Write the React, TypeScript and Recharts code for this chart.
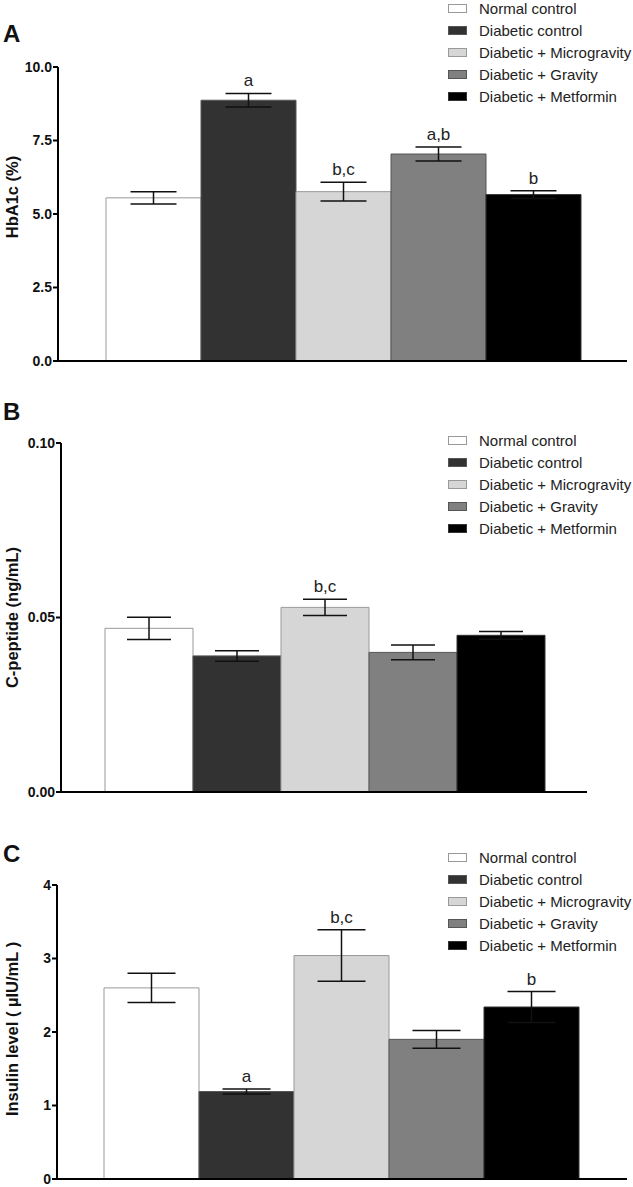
import { BarChart, Bar, XAxis, YAxis, Legend, ErrorBar, LabelList } from "recharts";

const groups = [
  "Normal control",
  "Diabetic control",
  "Diabetic + Microgravity",
  "Diabetic + Gravity",
  "Diabetic + Metformin",
];
const fills = ["#ffffff", "#323232", "#d6d6d6", "#808080", "#000000"];
const strokes = ["#999999", "#555555", "#999999", "#555555", "#333333"];

const hba1c = [5.55, 8.87, 5.76, 7.04, 5.66];
const hba1cErr = [0.21, 0.23, 0.32, 0.24, 0.13];
const hba1cSig = ["", "a", "b,c", "a,b", "b"];
const hba1cTicks = [0, 2.5, 5, 7.5, 10];

const cpep = [0.0469, 0.039, 0.0529, 0.04, 0.0449];
const cpepErr = [0.0032, 0.0015, 0.0023, 0.0021, 0.0011];
const cpepSig = ["", "", "b,c", "", ""];
const cpepTicks = [0, 0.05, 0.1];

const insulin = [2.6, 1.19, 3.04, 1.9, 2.34];
const insulinErr = [0.2, 0.035, 0.35, 0.12, 0.21];
const insulinSig = ["", "a", "b,c", "", "b"];
const insulinTicks = [0, 1, 2, 3, 4];

const FONT = "Arial, 'Liberation Sans', Helvetica, sans-serif";

function toRow(values: number[], errs: number[]) {
  const row: Record<string, number | string> = { name: "group" };
  values.forEach((v, i) => {
    row[`v${i}`] = v;
    row[`e${i}`] = errs[i];
  });
  return [row];
}

function LegendBox({ payload }: any) {
  const items = [...(payload || [])].sort(
    (a: any, b: any) => groups.indexOf(a.value) - groups.indexOf(b.value)
  );
  return (
    <div style={{ fontFamily: FONT, fontSize: 15, color: "#222" }}>
      {items.map((p: any) => {
        const i = groups.indexOf(p.value);
        return (
          <div key={p.value} style={{ height: 21.8, display: "flex", alignItems: "center" }}>
            <span
              style={{
                display: "inline-block",
                width: 19,
                height: 9,
                boxSizing: "border-box",
                background: fills[i],
                border: `1px solid ${strokes[i]}`,
                marginRight: 12,
                flexShrink: 0,
              }}
            />
            <span style={{ whiteSpace: "nowrap" }}>{p.value}</span>
          </div>
        );
      })}
    </div>
  );
}

function sigLabel(values: number[], errs: number[], sig: string[], idx: number) {
  return (props: any) => {
    const { x, y, width, height } = props;
    const txt = sig[idx];
    if (!txt) return null;
    const pxPerUnit = height / values[idx];
    const top = y - errs[idx] * pxPerUnit;
    return (
      <text
        x={x + width / 2}
        y={top - 7}
        textAnchor="middle"
        fontFamily={FONT}
        fontSize={17}
        fill="#222"
      >
        {txt}
      </text>
    );
  };
}

interface PanelProps {
  letter: string;
  letterTop: number;
  top: number;
  height: number;
  margin: { top: number; right: number; bottom: number; left: number };
  yWidth: number;
  yLabel: string;
  labelShift: number;
  values: number[];
  errs: number[];
  sig: string[];
  ticks: number[];
  fmt: (v: number) => string;
  gap: number;
  capHalf: number;
  legendTop: number;
}

function Panel(p: PanelProps) {
  const data = toRow(p.values, p.errs);
  return (
    <div style={{ position: "absolute", left: 0, top: p.top }}>
      <BarChart
        width={633}
        height={p.height}
        data={data}
        margin={p.margin}
        barCategoryGap={p.gap}
        barGap={0}
      >
        <XAxis
          dataKey="name"
          height={1}
          tick={false}
          tickLine={false}
          axisLine={{ stroke: "#000", strokeWidth: 2 }}
        />
        <YAxis
          width={p.yWidth}
          domain={[p.ticks[0], p.ticks[p.ticks.length - 1]]}
          ticks={p.ticks}
          tickFormatter={p.fmt}
          interval={0}
          tickSize={5}
          tickMargin={1}
          axisLine={{ stroke: "#000", strokeWidth: 2 }}
          tickLine={{ stroke: "#000", strokeWidth: 2 }}
          tick={{ fill: "#111", fontSize: 14, fontWeight: "bold", fontFamily: FONT }}
          label={{
            content: (lp: any) => {
              const vb = lp.viewBox;
              const cy = vb.y + vb.height / 2 + p.labelShift;
              return (
                <text
                  x={12}
                  y={cy}
                  transform={`rotate(-90 12 ${cy})`}
                  textAnchor="middle"
                  dominantBaseline="central"
                  fontFamily={FONT}
                  fontSize={16.5}
                  fontWeight="bold"
                  fill="#111"
                >
                  {p.yLabel}
                </text>
              );
            },
          }}
        />
        <Legend
          layout="vertical"
          align="center"
          verticalAlign="middle"
          wrapperStyle={{ left: 448, top: p.legendTop, width: 185 }}
          content={<LegendBox />}
        />
        {groups.map((g, i) => (
          <Bar
            key={g}
            dataKey={`v${i}`}
            name={g}
            fill={fills[i]}
            stroke={strokes[i]}
            strokeWidth={1}
            isAnimationActive={false}
          >
            <ErrorBar dataKey={`e${i}`} width={p.capHalf} stroke="#111" strokeWidth={1.5} />
            <LabelList dataKey={`v${i}`} content={sigLabel(p.values, p.errs, p.sig, i)} />
          </Bar>
        ))}
      </BarChart>
      <div
        style={{
          position: "absolute",
          left: 3,
          top: p.letterTop,
          fontFamily: FONT,
          fontWeight: "bold",
          fontSize: 24,
          lineHeight: "24px",
          color: "#111",
        }}
      >
        {p.letter}
      </div>
    </div>
  );
}

export default function App() {
  return (
    <div
      style={{
        position: "absolute",
        left: 0,
        top: 0,
        width: 633,
        height: 1187,
        background: "#fff",
        overflow: "hidden",
      }}
    >
      <Panel
        letter="A"
        letterTop={22}
        top={0}
        height={375}
        margin={{ top: 67, right: 6, bottom: 13, left: 0 }}
        yWidth={58}
        yLabel="HbA1c (%)"
        labelShift={-17}
        values={hba1c}
        errs={hba1cErr}
        sig={hba1cSig}
        ticks={hba1cTicks}
        fmt={(v) => v.toFixed(1)}
        gap={48}
        capHalf={23}
        legendTop={-2}
      />
      <Panel
        letter="B"
        letterTop={5}
        top={395}
        height={405}
        margin={{ top: 48, right: 46, bottom: 7, left: 0 }}
        yWidth={61}
        yLabel="C-peptide (ng/mL)"
        labelShift={0}
        values={cpep}
        errs={cpepErr}
        sig={cpepSig}
        ticks={cpepTicks}
        fmt={(v) => v.toFixed(2)}
        gap={44}
        capHalf={22}
        legendTop={35}
      />
      <Panel
        letter="C"
        letterTop={14}
        top={828}
        height={359}
        margin={{ top: 57, right: 6, bottom: 7, left: 0 }}
        yWidth={57}
        yLabel="Insulin level ( µIU/mL )"
        labelShift={-3}
        values={insulin}
        errs={insulinErr}
        sig={insulinSig}
        ticks={insulinTicks}
        fmt={(v) => String(v)}
        gap={47}
        capHalf={24}
        legendTop={19}
      />
    </div>
  );
}
